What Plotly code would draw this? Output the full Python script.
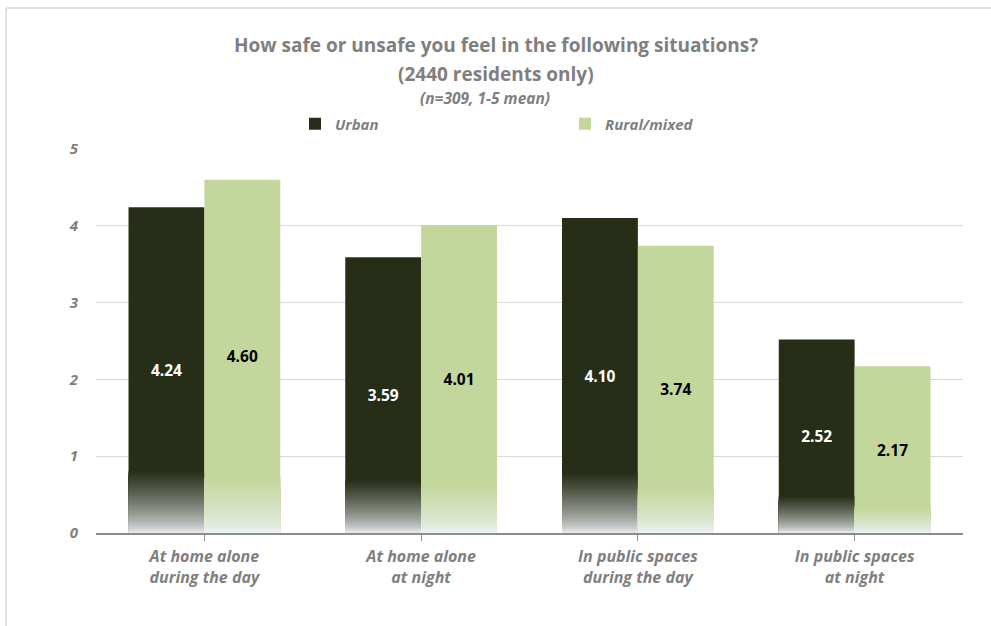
import plotly.graph_objects as go

# ---- data ----
categories = ["At home alone<br>during the day", "At home alone<br>at night",
              "In public spaces<br>during the day", "In public spaces<br>at night"]
urban = [4.24, 3.59, 4.10, 2.52]
rural = [4.60, 4.01, 3.74, 2.17]
series_names = ["Urban", "Rural/mixed"]
title_line1 = "How safe or unsafe you feel in the following situations?"
title_line2 = "(2440 residents only)"
subtitle = "(n=309, 1-5 mean)"
y_ticks = [0, 1, 2, 3, 4, 5]

# ---- style ----
FONT = "Open Sans"
GRAY = "#7f7f7f"
colors = ["#272e18", "#c3d69b"]
fade_end = "#eef2f6"
fade_frac = [0.19, 0.16]
label_colors = ["#ffffff", "#000000"]
offsets = [-0.35, 0.0]
BW = 0.35
NSEG = 30

W, H = 991, 626
ML, MR, MT, MB = 96, 28, 149, 93
PW, PH = W - ML - MR, H - MT - MB


def px_x(px):
    return (px - ML) / PW


def px_y(py):
    return (H - MB - py) / PH


def hex2rgb(h):
    h = h.lstrip("#")
    return [int(h[i:i + 2], 16) for i in (0, 2, 4)]


def mix(c1, c2, t):
    a, b = hex2rgb(c1), hex2rgb(c2)
    return "rgb(%d,%d,%d)" % tuple(round(a[i] + (b[i] - a[i]) * t) for i in range(3))


fig = go.Figure()
xs = list(range(len(categories)))

for s, vals in enumerate([urban, rural]):
    fig.add_trace(go.Bar(
        x=xs, y=vals, name=series_names[s],
        marker=dict(color=colors[s], line=dict(width=0)),
        offset=offsets[s], width=BW,
        text=["%.2f" % v for v in vals], textposition="inside",
        insidetextanchor="middle", textangle=0,
        textfont=dict(family=FONT, size=15.5, color=label_colors[s], weight="bold"),
        hoverinfo="skip", showlegend=True,
    ))
    # gradient fade at the bottom of each bar: nested overlays, tallest (darkest) first
    for k in range(NSEG):
        frac_top = (NSEG - k) / NSEG
        t = (NSEG - k - 0.5) / NSEG
        col = mix(fade_end, colors[s], t ** 0.7)
        fig.add_trace(go.Bar(
            x=xs, y=[v * fade_frac[s] * frac_top for v in vals],
            marker=dict(color=col, line=dict(width=0)),
            offset=offsets[s], width=BW,
            hoverinfo="skip", showlegend=False,
        ))

fig.update_layout(
    width=W, height=H,
    margin=dict(l=ML, r=MR, t=MT, b=MB),
    barmode="overlay",
    paper_bgcolor="white", plot_bgcolor="white",
    font=dict(family=FONT, color=GRAY),
    showlegend=True,
    legend=dict(
        orientation="h", x=px_x(295), y=px_y(124), xanchor="left", yanchor="middle",
        itemwidth=30, entrywidth=225, entrywidthmode="pixels",
        font=dict(family=FONT, size=15, color=GRAY, style="italic", weight="bold"),
        bgcolor="rgba(0,0,0,0)", itemclick=False,
    ),
    xaxis=dict(
        tickmode="array", tickvals=xs, ticktext=categories,
        range=[-0.5, len(categories) - 0.5],
        showline=True, linecolor="#8c8c8c", linewidth=1.5,
        ticks="outside", tickson="boundaries", ticklen=6, tickcolor="#8c8c8c",
        showgrid=False, zeroline=False, ticklabelstandoff=2,
        tickfont=dict(family=FONT, size=16, color=GRAY, style="italic", weight="bold"),
    ),
    yaxis=dict(
        range=[0, 5], tickvals=y_ticks, showgrid=True, gridcolor="#d9d9d9", gridwidth=1,
        zeroline=False, showline=False, ticks="", ticklabelstandoff=17,
        tickfont=dict(family=FONT, size=15, color=GRAY, style="italic", weight="bold"),
    ),
    annotations=[
        dict(text="<b>%s</b>" % title_line1, x=px_x(495.5), y=px_y(45), xref="paper", yref="paper",
             showarrow=False, xanchor="center", yanchor="middle",
             font=dict(family=FONT, size=19, color=GRAY)),
        dict(text="<b>%s</b>" % title_line2, x=px_x(495.5), y=px_y(74), xref="paper", yref="paper",
             showarrow=False, xanchor="center", yanchor="middle",
             font=dict(family=FONT, size=19, color=GRAY)),
        dict(text="<b><i>%s</i></b>" % subtitle, x=px_x(485), y=px_y(98), xref="paper", yref="paper",
             showarrow=False, xanchor="center", yanchor="middle",
             font=dict(family=FONT, size=15.5, color=GRAY)),
    ],
    shapes=[
        dict(type="line", xref="paper", yref="paper", x0=px_x(6), x1=px_x(1000),
             y0=px_y(8), y1=px_y(8), line=dict(color="#d9d9d9", width=1.5)),
        dict(type="line", xref="paper", yref="paper", x0=px_x(6), x1=px_x(6),
             y0=px_y(8), y1=px_y(640), line=dict(color="#d9d9d9", width=1.5)),
    ],
)

fig.write_html("out.html")
